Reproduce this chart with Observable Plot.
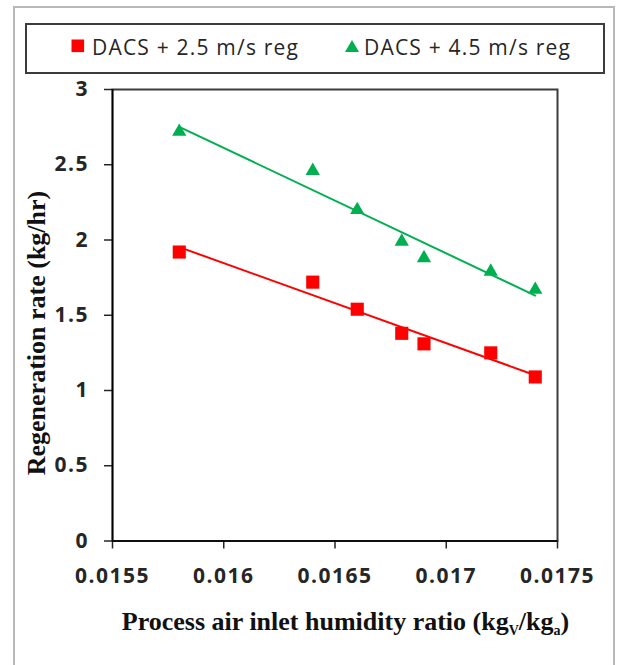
<!DOCTYPE html>
<html>
<head>
<meta charset="utf-8">
<script src="https://cdn.jsdelivr.net/npm/d3@7"></script>
<script src="https://cdn.jsdelivr.net/npm/@observablehq/plot@0.6"></script>
<style>
  html, body { margin: 0; padding: 0; background: #fff; overflow: hidden; }
  #page { position: relative; width: 618px; height: 665px; }
  #outer { position: absolute; left: 13px; top: 6px; width: 598px; height: 700px;
           border: 2.5px solid #b8b8b8; border-bottom: none; }
  #legend { position: absolute; left: 25px; top: 23px; width: 576px; height: 47px;
            border: 2.5px solid #3c3c3c; font-family: "Open Sans", sans-serif;
            font-size: 21px; color: #262626; letter-spacing: 1.2px; }
  .item { position: absolute; top: 8px; white-space: nowrap; line-height: 28px; }
  .swatch { position: absolute; }
  #chart { position: absolute; left: 0; top: 0; }
  #chart svg g[aria-label="x-axis tick label"] text,
  #chart svg g[aria-label="y-axis tick label"] text { letter-spacing: 1.5px; }
</style>
</head>
<body>
<div id="page">
  <div id="outer"></div>
  <div id="chart"></div>
  <div id="legend"></div>
</div>
<script>
// Process air inlet humidity ratio (kg_v/kg_a) for each test point
const humidity = [0.0158, 0.0164, 0.0166, 0.0168, 0.0169, 0.0172, 0.0174];
// Regeneration rate (kg/hr) for the two regeneration air velocities
const rate25 = [1.92, 1.72, 1.54, 1.38, 1.31, 1.25, 1.09];
const rate45 = [2.72, 2.46, 2.20, 1.99, 1.88, 1.79, 1.67];

const seriesNames = ["DACS + 2.5 m/s reg", "DACS + 4.5 m/s reg"];
const seriesColors = ["#ff0000", "#00b050"];

const xTicks = [0.0155, 0.016, 0.0165, 0.017, 0.0175];
const yTicks = [0, 0.5, 1, 1.5, 2, 2.5, 3];

const rows = humidity.flatMap((h, i) => [
  {h, r: rate25[i], s: seriesNames[0]},
  {h, r: rate45[i], s: seriesNames[1]}
]);

const svg = Plot.plot({
  width: 618,
  height: 665,
  marginTop: 89,
  marginRight: 61,
  marginBottom: 124.5,
  marginLeft: 112,
  x: {domain: [0.0155, 0.0175]},
  y: {domain: [0, 3]},
  color: {domain: seriesNames, range: seriesColors},
  style: {background: "transparent", fontFamily: "'Open Sans', sans-serif", fontSize: "21px"},
  marks: [
    Plot.frame({stroke: "#3c3c3c", strokeWidth: 2}),
    Plot.axisX({ticks: xTicks, tickFormat: d => String(d), tickSize: 8, tickPadding: 19,
                label: null, fontWeight: "bold", color: "#262626", strokeWidth: 1.5}),
    Plot.axisY({ticks: yTicks, tickFormat: d => String(d), tickSize: 8, tickPadding: 15.5,
                label: null, fontWeight: "bold", color: "#262626", strokeWidth: 1.5}),
    Plot.ruleY([0], {stroke: "#000", strokeWidth: 1.6}),
    Plot.ruleX([0.0155], {stroke: "#000", strokeWidth: 1.6}),
    Plot.linearRegressionY(rows, {x: "h", y: "r", stroke: "s", ci: 0, strokeWidth: 2}),
    Plot.dot(rows.filter(d => d.s === seriesNames[0]),
             {x: "h", y: "r", symbol: "square", r: 7.4, fill: seriesColors[0], stroke: null}),
    Plot.dot(rows.filter(d => d.s === seriesNames[1]),
             {x: "h", y: "r", symbol: "triangle", r: 5.3, fill: seriesColors[1], stroke: null})
  ]
});

// Axis titles set in a bold serif face
const root = d3.select(svg);
root.append("text")
  .attr("transform", "translate(45,333) rotate(-90)")
  .attr("text-anchor", "middle")
  .attr("font-family", "'Liberation Serif', serif")
  .attr("font-weight", "bold")
  .attr("font-size", 26)
  .attr("fill", "#111")
  .text("Regeneration rate (kg/hr)");

const xt = root.append("text")
  .attr("x", 345.5)
  .attr("y", 630)
  .attr("text-anchor", "middle")
  .attr("font-family", "'Liberation Serif', serif")
  .attr("font-weight", "bold")
  .attr("font-size", 26)
  .attr("fill", "#111");
xt.append("tspan").text("Process air inlet humidity ratio (kg");
xt.append("tspan").attr("font-size", 14).attr("dy", 5).text("V");
xt.append("tspan").attr("dy", -5).text("/kg");
xt.append("tspan").attr("font-size", 14).attr("dy", 5).text("a");
xt.append("tspan").attr("dy", -5).text(")");

document.getElementById("chart").appendChild(svg);

// Legend: one swatch and label per series
const legend = d3.select("#legend");
const items = [
  {name: seriesNames[0], color: seriesColors[0], shape: "square", x: 44, textX: 65},
  {name: seriesNames[1], color: seriesColors[1], shape: "triangle", x: 318, textX: 337}
];
for (const it of items) {
  const sw = legend.append("svg")
    .attr("class", "swatch")
    .attr("width", 14).attr("height", 14)
    .style("left", it.x + "px").style("top", "14px");
  if (it.shape === "square") {
    sw.append("rect").attr("x", 0.5).attr("y", 0.5).attr("width", 12.6).attr("height", 12.6).attr("fill", it.color);
  } else {
    sw.append("path").attr("d", "M7,1 L14,13 L0,13 Z").attr("fill", it.color);
  }
  legend.append("div").attr("class", "item").style("left", it.textX + "px").text(it.name);
}
</script>
</body>
</html>
